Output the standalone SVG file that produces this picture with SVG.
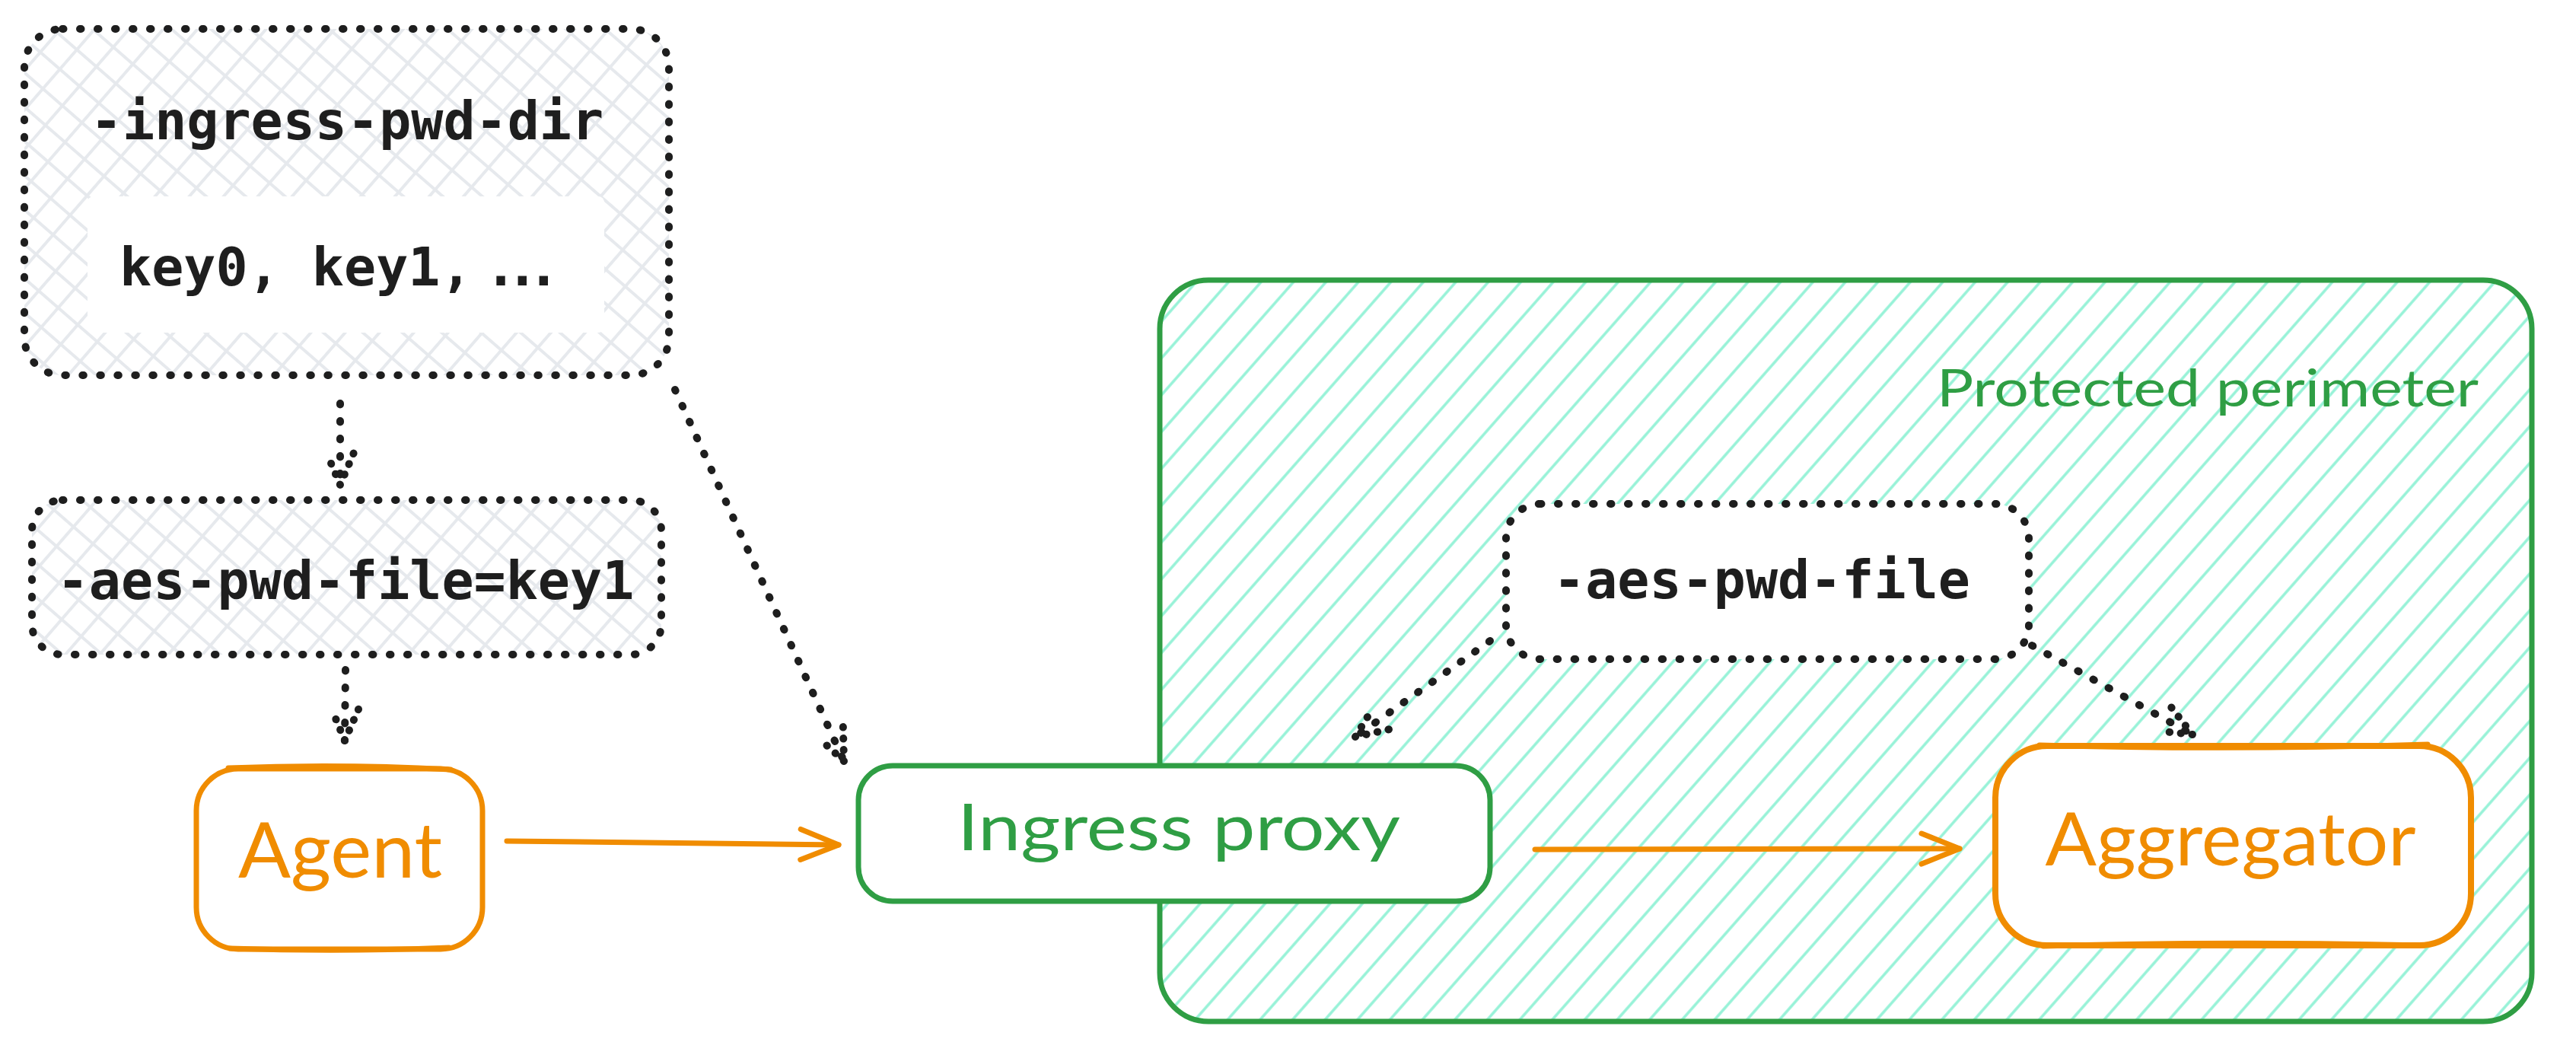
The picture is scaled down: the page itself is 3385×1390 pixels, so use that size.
<svg xmlns="http://www.w3.org/2000/svg" width="3385" height="1390" viewBox="0 0 3385 1390">
<defs>
<style>
.dot{fill:none;stroke:#1e1e1e;stroke-width:10;stroke-linecap:round;stroke-dasharray:1.5 21.5;}
.doth{fill:none;stroke:#1e1e1e;stroke-width:10;stroke-linecap:round;stroke-linejoin:round;stroke-dasharray:0.5 14.5;}
.mono{font-family:"DejaVu Sans Mono","Liberation Mono",monospace;font-size:70px;font-weight:bold;fill:#1e1e1e;}
.hand{font-family:Lato,"Noto Sans",sans-serif;}
.org{fill:none;stroke:#f08c00;stroke-width:7;stroke-linecap:round;stroke-linejoin:round;}
.obox{fill:#ffffff;stroke:#f08c00;stroke-width:7;}
.gbox{fill:#ffffff;stroke:#2f9e44;stroke-width:7;}
.wbox{fill:#ffffff;}
</style>
<pattern id="hg" patternUnits="userSpaceOnUse" width="32" height="32" patternTransform="rotate(-48.6)"><line x1="-2" y1="16" x2="34" y2="16" stroke="#96f2d7" stroke-width="3.5"/></pattern>
<pattern id="hx" patternUnits="userSpaceOnUse" width="34" height="34" patternTransform="rotate(-49)"><line x1="-2" y1="17" x2="36" y2="17" stroke="#e6e9ed" stroke-width="4"/><line x1="17" y1="-2" x2="17" y2="36" stroke="#e6e9ed" stroke-width="4"/></pattern>
<marker id="ah" markerUnits="userSpaceOnUse" orient="auto" overflow="visible" markerWidth="10" markerHeight="10" refX="0" refY="0"><path d="M-50,-20 L0,0 L-50,20" class="org"/></marker>
<marker id="dh" markerUnits="userSpaceOnUse" orient="auto" overflow="visible" markerWidth="10" markerHeight="10" refX="0" refY="0"><path d="M-41.4,-17.6 L0,0 L-41.4,17.6" class="doth"/></marker>
</defs>
<rect width="3385" height="1390" fill="#ffffff"/>

<g id="perimeter">
<rect x="1524" y="368" width="1803" height="974" rx="64" ry="64" fill="url(#hg)" stroke="#2f9e44" stroke-width="7"/>
<text class="hand" x="2901" y="534" text-anchor="middle" font-size="68" fill="#2f9e44" textLength="712" lengthAdjust="spacingAndGlyphs">Protected perimeter</text>
</g>

<g id="connectors">
<path class="dot" d="M447,530 L447,637" marker-end="url(#dh)"/>
<path class="dot" d="M454,880 L453,973" marker-end="url(#dh)"/>
<path class="dot" d="M887,512 L1109,1000" marker-end="url(#dh)"/>
<path class="dot" d="M1958,842 L1781,968" marker-end="url(#dh)"/>
<path class="dot" d="M2670,848 L2881,965" marker-end="url(#dh)"/>
<path class="org" d="M666,1105 L1102,1110" marker-end="url(#ah)"/>
<path class="org" d="M2017,1116 L2575,1115" marker-end="url(#ah)"/>
</g>

<g id="ingress-pwd-dir">
<rect x="32" y="38" width="847" height="455" rx="50" ry="50" fill="url(#hx)"/>
<rect x="115" y="258" width="679" height="179" rx="8" ry="8" class="wbox"/>
<rect x="32" y="38" width="847" height="455" rx="50" ry="50" class="dot"/>
<text class="mono" x="456" y="183" text-anchor="middle">-ingress-pwd-dir</text>
<text class="mono" x="157" y="375">key0, key1,<tspan x="637" letter-spacing="-14">...</tspan></text>
</g>

<g id="aes-pwd-file-key1">
<rect x="42" y="657" width="827" height="203" rx="40" ry="40" fill="url(#hx)"/>
<rect x="42" y="657" width="827" height="203" rx="40" ry="40" class="dot"/>
<text class="mono" x="454" y="787" text-anchor="middle">-aes-pwd-file=key1</text>
</g>

<g id="agent">
<rect x="258" y="1010" width="376" height="237" rx="55" ry="55" class="obox"/>
<path class="org" d="M300,1009 Q445,1003 592,1011 M302,1246 Q450,1251 590,1245" stroke-width="9"/>
<text class="hand" x="447" y="1153" text-anchor="middle" font-size="100" fill="#f08c00" textLength="268" lengthAdjust="spacingAndGlyphs">Agent</text>
</g>

<g id="ingress-proxy">
<rect x="1128" y="1006" width="830" height="178" rx="45" ry="45" class="gbox"/>
<text class="hand" x="1549" y="1117" text-anchor="middle" font-size="86" fill="#2f9e44" textLength="582" lengthAdjust="spacingAndGlyphs">Ingress proxy</text>
</g>

<g id="aes-pwd-file">
<rect x="1979" y="662" width="687" height="204" rx="45" ry="45" class="wbox"/>
<rect x="1979" y="662" width="687" height="204" rx="45" ry="45" class="dot"/>
<text class="mono" x="2315" y="786" text-anchor="middle">-aes-pwd-file</text>
</g>

<g id="aggregator">
<rect x="2622" y="980" width="625" height="262" rx="68" ry="68" class="obox" style="stroke-width:8"/>
<path class="org" d="M2680,979 Q2930,986 3190,978 M2685,1243 Q2930,1236 3185,1242" stroke-width="9"/>
<text class="hand" x="2931" y="1137" text-anchor="middle" font-size="96" fill="#f08c00" textLength="487" lengthAdjust="spacingAndGlyphs">Aggregator</text>
</g>
</svg>
